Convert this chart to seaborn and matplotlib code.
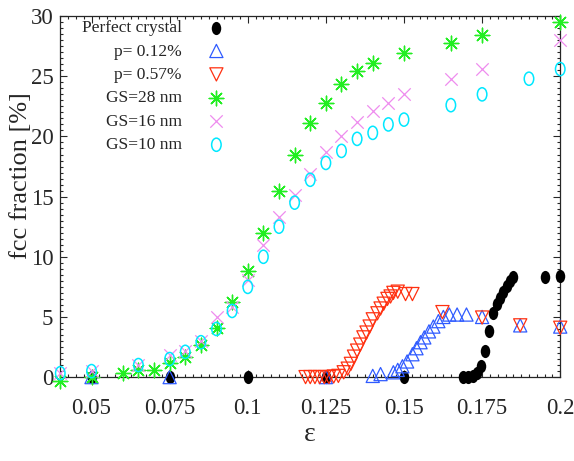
import numpy as np
import pandas as pd
import matplotlib
matplotlib.use('Agg')
import matplotlib.pyplot as plt
import seaborn as sns
from matplotlib.path import Path
from matplotlib.transforms import Affine2D
from matplotlib.ticker import MultipleLocator, FixedLocator

# データ
eps_perfect = [0.05, 0.075, 0.1, 0.125, 0.15, 0.169, 0.1705, 0.172, 0.1735, 0.1748, 0.176,
               0.1773, 0.1786, 0.1798, 0.1808, 0.1818, 0.183, 0.184, 0.185, 0.195, 0.2]
frac_perfect = [0, 0, 0, 0, 0, 0, 0, 0.1, 0.3, 0.9, 2.2, 3.8, 5.3, 6.1, 6.6, 7.1, 7.6, 8.0, 8.3, 8.3, 8.4]

eps_p012 = [0.05, 0.075, 0.125, 0.14, 0.1425, 0.1466, 0.148, 0.1495, 0.151, 0.1527, 0.154, 0.1553,
            0.1565, 0.158, 0.1594, 0.161, 0.1626, 0.1645, 0.167, 0.17, 0.175, 0.1872, 0.2]
frac_p012 = [0, 0, 0, 0.1, 0.25, 0.4, 0.6, 0.9, 1.3, 1.9, 2.4, 2.9, 3.3, 3.8, 4.2, 4.65, 5.0, 5.2,
             5.2, 5.2, 5.0, 4.3, 4.2]

eps_p057 = [0.1185, 0.12, 0.1215, 0.123, 0.1245, 0.126, 0.1275, 0.129, 0.1307, 0.132, 0.133, 0.134,
            0.135, 0.136, 0.137, 0.138, 0.139, 0.14, 0.1415, 0.1425, 0.1435, 0.1447, 0.1457, 0.1466,
            0.148, 0.1505, 0.1527, 0.1623, 0.175, 0.1872, 0.2]
frac_p057 = [0, 0, 0, 0, 0, 0, 0.05, 0.1, 0.4, 0.7, 1.1, 1.7, 2.2, 2.7, 3.3, 3.7, 4.2, 4.8, 5.3, 5.7,
             6.1, 6.5, 6.7, 7.0, 7.1, 6.9, 6.9, 5.4, 4.95, 4.3, 4.1]

eps_gs28 = [0.04, 0.05, 0.06, 0.065, 0.07, 0.075, 0.08, 0.085, 0.09, 0.095, 0.1, 0.105, 0.11, 0.115,
            0.12, 0.125, 0.13, 0.135, 0.14, 0.15, 0.165, 0.175, 0.2]
frac_gs28 = [-0.3, 0, 0.35, 0.6, 0.6, 1.2, 1.7, 2.7, 4.1, 6.2, 8.8, 12.0, 15.5, 18.5, 21.1, 22.8,
             24.4, 25.45, 26.1, 26.9, 27.8, 28.4, 29.5]

eps_gs16 = [0.04, 0.05, 0.065, 0.075, 0.08, 0.085, 0.09, 0.095, 0.1, 0.105, 0.11, 0.115, 0.12,
            0.125, 0.13, 0.135, 0.14, 0.145, 0.15, 0.165, 0.175, 0.2]
frac_gs16 = [0.3, 0.5, 1.0, 1.8, 2.2, 3.0, 5.0, 5.8, 8.1, 11.0, 13.3, 15.1, 16.9, 18.7, 20.0, 21.2,
             22.1, 22.8, 23.5, 24.8, 25.6, 28.0]

eps_gs10 = [0.04, 0.05, 0.065, 0.075, 0.08, 0.085, 0.09, 0.095, 0.1, 0.105, 0.11, 0.115, 0.12,
            0.125, 0.13, 0.135, 0.14, 0.145, 0.15, 0.165, 0.175, 0.19, 0.2]
frac_gs10 = [0.33, 0.5, 1.0, 1.5, 2.1, 2.9, 4.0, 5.5, 7.5, 10.0, 12.5, 14.5, 16.4, 17.8, 18.8, 19.8,
             20.3, 21.0, 21.4, 22.6, 23.5, 24.8, 25.6]

xticks = [0.05, 0.075, 0.1, 0.125, 0.15, 0.175, 0.2]
xticklabels = ['0.05', '0.075', '0.1', '0.125', '0.15', '0.175', '0.2']
yticks = [0, 5, 10, 15, 20, 25, 30]

# スタイル設定
sns.set_style('ticks')
plt.rcParams['font.family'] = ['Liberation Serif', 'DejaVu Serif']

# 縦長の楕円マーカー
ellipse = Path.unit_circle().transformed(Affine2D().scale(0.72, 1.0))

fig = plt.figure(figsize=(5.74, 4.61), dpi=100)
ax = fig.add_axes([0.105, 0.182, 0.871, 0.783])

series = [
    ('Perfect crystal', eps_perfect, frac_perfect,
     dict(marker=ellipse, s=90, color='black', edgecolor='black', linewidth=0)),
    ('p= 0.12%', eps_p012, frac_p012,
     dict(marker='^', s=90, facecolor='none', edgecolor='#2f5bff', linewidth=0.9)),
    ('p= 0.57%', eps_p057, frac_p057,
     dict(marker='v', s=90, facecolor='none', edgecolor='#ff3010', linewidth=0.9)),
    ('GS=28 nm', eps_gs28, frac_gs28,
     dict(marker=(8, 2, 0), s=110, color='#22ee22', linewidth=1.0)),
    ('GS=16 nm', eps_gs16, frac_gs16,
     dict(marker='x', s=80, color='#ee8cee', linewidth=0.9)),
    ('GS=10 nm', eps_gs10, frac_gs10,
     dict(marker=ellipse, s=90, facecolor='none', edgecolor='#00e8ff', linewidth=1.1)),
]

for label, xs, ys, kw in series:
    df = pd.DataFrame({'eps': xs, 'frac': ys})
    sns.scatterplot(data=df, x='eps', y='frac', ax=ax, label=label, clip_on=False, zorder=3, **kw)

ax.set_xlim(0.04, 0.2)
ax.set_ylim(0, 30)
ax.xaxis.set_major_locator(FixedLocator(xticks))
ax.set_xticklabels(xticklabels)
ax.set_yticks(yticks)
ax.xaxis.set_minor_locator(MultipleLocator(0.0025))
ax.yaxis.set_minor_locator(MultipleLocator(0.5))
ax.tick_params(which='both', direction='in', top=True, right=True, labelsize=16.5, width=0.8)
ax.tick_params(which='major', length=5)
ax.tick_params(which='minor', length=2.5)
ax.tick_params(axis='x', which='major', pad=15)
ax.tick_params(axis='y', which='major', pad=5)
for sp in ax.spines.values():
    sp.set_linewidth(0.9)

ax.set_xlabel('ε', fontsize=20, labelpad=2)
ax.set_ylabel('fcc fraction [%]', fontsize=19)
ax.yaxis.set_label_coords(-0.056, 0.557)

ax.legend(loc='upper left', bbox_to_anchor=(0.015, 1.028), frameon=False, markerfirst=False,
          fontsize=12.5, handlelength=1.0, handletextpad=1.5, labelspacing=0.42, borderpad=0.3)

fig.savefig('out.png', dpi=100)
